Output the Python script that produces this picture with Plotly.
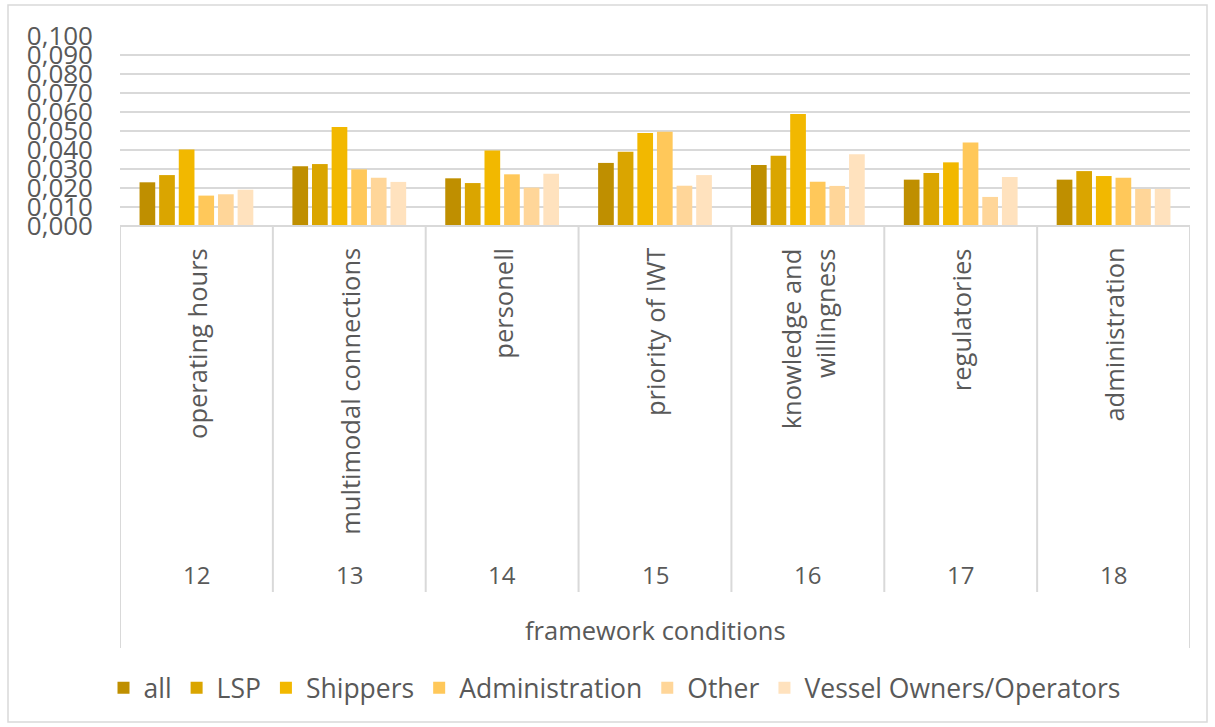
import plotly.graph_objects as go

codes = ["12", "13", "14", "15", "16", "17", "18"]
cat_labels = ["operating hours", "multimodal connections", "personell", "priority of IWT",
              "knowledge and<br>willingness", "regulatories", "administration"]
series_names = ["all", "LSP", "Shippers", "Administration", "Other", "Vessel Owners/Operators"]
all_v = [0.0230, 0.0314, 0.0251, 0.0332, 0.0321, 0.0244, 0.0244]
lsp_v = [0.0268, 0.0326, 0.0226, 0.0391, 0.0370, 0.0279, 0.0289]
ship_v = [0.0402, 0.0521, 0.0398, 0.0489, 0.0589, 0.0335, 0.0263]
admin_v = [0.0160, 0.0298, 0.0272, 0.0496, 0.0233, 0.0440, 0.0254]
other_v = [0.0167, 0.0254, 0.0202, 0.0212, 0.0211, 0.0153, 0.0195]
vessel_v = [0.0191, 0.0232, 0.0275, 0.0268, 0.0377, 0.0258, 0.0195]
colors = ["#BF8F00", "#DAA500", "#F2B800", "#FFC85A", "#FFD699", "#FFE2BE"]
y_ticks = [i / 100 for i in range(11)]
y_tick_text = ["0,{:03d}".format(i * 10) for i in range(11)]

FONT = "Open Sans"
GREY = "#595959"
LINE = "#D9D9D9"

fig = go.Figure()
for name, vals, col in zip(series_names, [all_v, lsp_v, ship_v, admin_v, other_v, vessel_v], colors):
    fig.add_trace(go.Bar(x=list(range(len(codes))), y=vals, name=name,
                         marker=dict(color=col, line=dict(color=col, width=0))))

W, H = 1215, 727
ML, MR, MT, MB = 8, 8, 5, 5
pw = W - ML - MR
ph = H - MT - MB


def px(pix):
    return (pix - ML) / pw


def py(pix):
    return (H - MB - pix) / ph


shapes = []
# axis line at bottom of bars
shapes.append(dict(type="line", xref="paper", yref="paper", x0=px(120), x1=px(1190),
                   y0=py(226), y1=py(226), line=dict(color=LINE, width=2)))
# outer verticals
for xv in [-0.5, len(codes) - 0.5]:
    shapes.append(dict(type="line", xref="x", yref="paper", x0=xv, x1=xv, y0=py(226), y1=py(648),
                       line=dict(color=LINE, width=2)))
# inner dividers
for i in range(1, len(codes)):
    xv = i - 0.5
    shapes.append(dict(type="line", xref="x", yref="paper", x0=xv, x1=xv, y0=py(226), y1=py(592),
                       line=dict(color=LINE, width=2)))
# chart border
shapes.append(dict(type="rect", xref="paper", yref="paper", x0=0, x1=1, y0=0, y1=1,
                   line=dict(color=LINE, width=1.5)))

annotations = []
for i, lab in enumerate(cat_labels):
    annotations.append(dict(x=i, y=py(246), xref="x", yref="paper", text=lab, textangle=-90,
                            showarrow=False, xanchor="center", yanchor="top", align="right",
                            font=dict(family=FONT, size=25.5, color=GREY)))
    annotations.append(dict(x=i, y=py(574), xref="x", yref="paper", text=codes[i],
                            showarrow=False, xanchor="center", yanchor="middle",
                            font=dict(family=FONT, size=24, color=GREY)))
annotations.append(dict(x=0.5 * (px(120) + px(1190)), y=py(630), xref="paper", yref="paper",
                        text="framework conditions",
                        showarrow=False, xanchor="center", yanchor="middle",
                        font=dict(family=FONT, size=25.5, color=GREY)))

fig.update_layout(
    width=W, height=H,
    margin=dict(l=ML, r=MR, t=MT, b=MB, autoexpand=False),
    paper_bgcolor="white", plot_bgcolor="white",
    barmode="group", bargap=0.23, bargroupgap=0.2,
    font=dict(family=FONT, color=GREY),
    xaxis=dict(domain=[px(120), px(1190)], range=[-0.5, len(codes) - 0.5],
               showticklabels=False, showgrid=False, zeroline=False, showline=False, ticks=""),
    yaxis=dict(domain=[py(226), py(36)], range=[0, 0.1], tickvals=y_ticks, ticktext=y_tick_text,
               showgrid=True, gridcolor=LINE, gridwidth=2, zeroline=False, showline=False,
               ticks="", tickfont=dict(family=FONT, size=26, color=GREY), ticklabelstandoff=26),
    showlegend=True,
    legend=dict(orientation="h", x=px(614.5), xanchor="center", y=py(688), yanchor="middle",
                font=dict(family=FONT, size=26.5, color=GREY), itemwidth=30,
                bgcolor="rgba(0,0,0,0)"),
    shapes=shapes, annotations=annotations,
)

fig.write_html("out.html")
